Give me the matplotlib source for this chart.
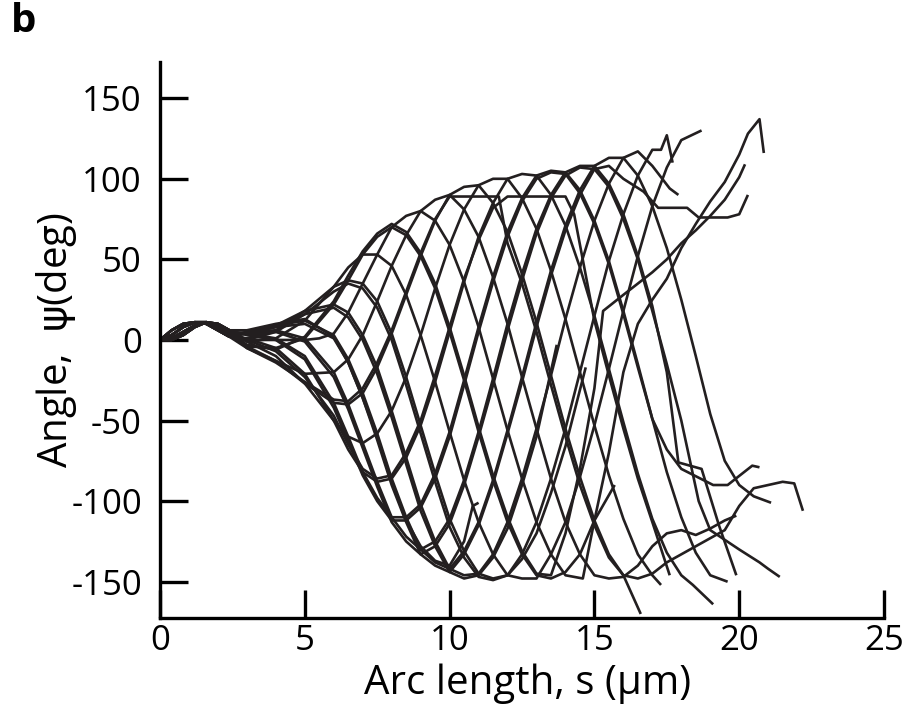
import matplotlib
matplotlib.use('Agg')
import matplotlib.pyplot as plt
import numpy as np

plt.rcParams['font.family'] = ['Open Sans', 'DejaVu Sans']
plt.rcParams['mathtext.fontset'] = 'dejavusans'


def grid(a, b):
    """sampling positions along the arc, every 0.5 um from a to b"""
    return np.arange(a, b + 0.25, 0.5).tolist()


# ---- data (arc length s in um, angle psi in deg), one snapshot per curve ----
bump_s = [0, 0.4, 0.8, 1.2, 1.6, 2.0, 2.4]
b1 = [0, 6, 10, 11, 10, 6, 2]
b2 = [0, 3, 8, 11, 11, 8, 3]
b3 = [0, 1, 5, 9, 11, 9, 5]
b4 = [0, 0, 3, 8, 11, 10, 6]

c01_s = bump_s + [3, 4, 5] + grid(6, 17) + [17.5, 17.9, 18.7, 19.3, 19.9]
c01_p = b1 + [5, 6, 1] + [-20, -40, -64, -88, -110, -122, -130, -125, -111, -87, -57, -24, 10, 41, 69, 90,
                          104, 108, 108, 97, 78, 52, 21] + [-20, -76, -80, -115, -146]

c02_s = bump_s + [3, 4, 5] + grid(6, 17.5) + [18, 18.6, 19, 20, 20.7, 21, 21.4]
c02_p = b2 + [4, 5, -1] + [-23, -43, -67, -91, -113, -125, -133, -128, -114, -90, -60, -28, 6, 37, 66, 88,
                           102, 107, 106, 95, 75, 50, 18, -15] + [-50, -100, -118, -130, -138, -142, -147]

c03_s = bump_s + [3, 4, 5] + grid(6, 19.5) + [20, 20.5, 21.1]
c03_p = b2 + [5, 9, 12] + [3, -12, -33, -58, -86, -110, -130, -138, -142, -131, -113, -87, -56, -23, 11, 43,
                           71, 93, 108, 113, 113, 102, 83, 57, 25, -10, -46, -75] + [-90, -97, -101]

c04_s = bump_s + [3, 4, 5] + grid(6, 16) + [16.7, 17.2, 18.2, 18.6, 19.6, 20.0, 20.3]
c04_p = b4 + [6, 10, 13] + [2, -14, -36, -62, -90, -113, -133, -140, -144, -133, -115, -89, -58, -26, 8, 40,
                            68, 90, 106, 108, 100] + [92, 82, 82, 76, 76, 78, 90]

c05_s = bump_s + [3, 4, 5] + grid(6, 10.5) + [10.8, 11.0]
c05_p = b3 + [4, 8, 10] + [1, -14, -36, -60, -88, -112, -128, -137, -140, -125] + [-103, -101]

c06_s = bump_s + [3, 4, 5] + grid(6, 17) + [17.6, 17.9]
c06_p = b3 + [4, 9, 18] + [22, 17, 3, -17, -44, -73, -102, -125, -142, -146, -145, -133, -113, -86, -55, -22,
                           13, 45, 74, 97, 113, 117, 108] + [94, 90]

c07_s = bump_s + [3, 4, 5] + grid(6, 13) + [13.7]
c07_p = b2 + [4, 8, 16] + [20, 14, 0, -21, -48, -77, -106, -128, -144, -148, -146, -135, -117, -90, -60] + [-3]

c08_s = bump_s + [3, 4, 5] + grid(6, 17) + [17.3, 17.5, 17.7]
c08_p = b1 + [1, 6, 18] + [33, 37, 35, 24, 4, -23, -53, -83, -111, -131, -145, -148, -146, -133, -113, -86,
                           -55, -20, 15, 49, 78, 102, 118] + [118, 127, 110]

c09_s = bump_s + [3, 4, 5] + grid(6, 14) + [14.7]
c09_p = b4 + [0, 5, 16] + [30, 35, 32, 20, 0, -28, -58, -88, -116, -135, -147, -149, -146, -136, -120, -95,
                           -66] + [-17]

c10_s = bump_s + [3, 4, 5] + grid(6, 18) + [18.7]
c10_p = b4 + [-1, 1, 12] + [33, 45, 53, 53, 46, 28, 3, -26, -57, -87, -113, -133, -146, -148, -148, -133,
                            -113, -85, -53, -18, 18, 52, 83, 107, 124] + [130]

c11_s = bump_s + [3, 4, 5] + grid(6, 20) + [20.3, 20.7, 20.85]
c11_p = b2 + [-4, -5, 1] + [22, 37, 53, 64, 70, 65, 52, 32, 5, -25, -57, -87, -113, -133, -146, -148, -144,
                            -133, -112, -70, -20, 10, 25, 38, 57, 72, 86, 98, 115] + [128, 137, 116]

c12_s = bump_s + [3, 4, 5] + grid(6, 15) + [15.3, 16, 16.5, 17, 17.5, 18, 18.5, 19, 19.5, 20, 20.2]
c12_p = b3 + [-3, -6, 2] + [24, 40, 55, 66, 72, 67, 54, 35, 8, -22, -54, -84, -110, -131, -145, -146, -120,
                            -80, -30] + [18, 28, 35, 42, 50, 60, 68, 77, 87, 101, 109]

c13_s = bump_s + [3, 4, 5, 5.5] + grid(6, 14) + [14.6, 15, 15.7]
c13_p = b3 + [0, 0, 0, 1] + [4, 17, 35, 53, 70, 77, 80, 74, 59, 36, 8, -24, -56, -86, -113, -133, -146] + \
    [-148, -112, -90]

c14_s = bump_s + [3, 4, 5] + grid(6, 19.5) + [19.9]
c14_p = b1 + [-5, -13, -21] + [-20, -12, 3, 24, 46, 65, 80, 87, 90, 81, 64, 39, 10, -23, -55, -86, -113, -133,
                               -146, -148, -147, -140, -128, -120, -118, -121, -117, -112] + [-109]

c15_s = bump_s + [3, 4, 5] + grid(6, 21.5) + [21.9, 22.2]
c15_p = b2 + [-4, -13, -27] + [-39, -40, -33, -17, 4, 28, 52, 74, 90, 95, 96, 85, 67, 41, 11, -22, -55, -85,
                               -112, -133, -146, -148, -145, -138, -133, -128, -123, -118, -103, -92, -90,
                               -88] + [-89, -106]

c16_s = bump_s + [3, 4, 5] + grid(6, 10) + [11, 11.7] + grid(12, 16) + [16.6]
c16_p = b4 + [-5, -14, -26] + [-37, -38, -30, -14, 6, 30, 54, 75, 89] + [89, 89] + \
    [60, 35, 5, -28, -60, -90, -115, -135, -146] + [-170]

c17_s = bump_s + [3, 4, 5] + grid(6, 17) + [17.3]
c17_p = b3 + [-1, -10, -27] + [-50, -60, -64, -58, -44, -23, 3, 32, 59, 81, 96, 100, 100, 88, 69, 43, 13, -20,
                               -53, -84, -111, -133, -146] + [-152]

c18_s = bump_s + [3, 4, 5] + grid(6, 18) + [18.4, 19.1]
c18_p = b1 + [1, -5, -21] + [-50, -68, -82, -88, -86, -73, -53, -26, 5, 36, 64, 85, 100, 103, 102, 90, 71, 45,
                             15, -18, -51, -83, -111, -132, -146] + [-152, -164]

c19_s = bump_s + [3, 4, 5] + grid(6, 12) + [13, 14, 14.3] + grid(15, 17) + [17.6]
c19_p = b2 + [0, -7, -23] + [-47, -65, -80, -86, -84, -70, -50, -22, 8, 38, 62, 82, 89] + [89, 89, 78] + \
    [12, -22, -55, -86, -113] + [-146]

c20_s = bump_s + [3, 4, 5] + grid(6, 19) + [19.6]
c20_p = b1 + [4, 1, -10] + [-39, -60, -82, -98, -110, -110, -102, -83, -57, -25, 8, 39, 67, 88, 102, 105, 104,
                            93, 74, 49, 18, -15, -49, -82, -110, -132, -146] + [-150]

c21_s = bump_s + [3, 4, 5] + grid(6, 18) + [19.1, 19.6, 20.45, 20.7]
c21_p = b4 + [3, 0, -12] + [-42, -63, -84, -100, -112, -112, -104, -86, -60, -28, 5, 36, 64, 86, 100, 104, 103,
                            91, 72, 47, 16, -17, -49, -68, -80] + [-90, -90, -78, -79]

curves = [(c01_s, c01_p), (c02_s, c02_p), (c03_s, c03_p), (c04_s, c04_p),
          (c05_s, c05_p), (c06_s, c06_p), (c07_s, c07_p), (c08_s, c08_p),
          (c09_s, c09_p), (c10_s, c10_p), (c11_s, c11_p), (c12_s, c12_p),
          (c13_s, c13_p), (c14_s, c14_p), (c15_s, c15_p), (c16_s, c16_p),
          (c17_s, c17_p), (c18_s, c18_p), (c19_s, c19_p), (c20_s, c20_p),
          (c21_s, c21_p)]

x_ticks = [0, 5, 10, 15, 20, 25]
y_ticks = [-150, -100, -50, 0, 50, 100, 150]

# ---- figure ----
fig = plt.figure(figsize=(9.08, 7.17), dpi=100)
ax = fig.add_axes([0.1762, 0.1381, 0.7974, 0.7755])

ink = '#231f20'
for s, p in curves:
    ax.plot(s, p, color=ink, lw=1.9, solid_joinstyle='round', solid_capstyle='butt')

ax.set_xlim(0, 25)
ax.set_ylim(-172.5, 172.5)
ax.set_xticks(x_ticks)
ax.set_yticks(y_ticks)
ax.set_xticklabels([str(v) for v in x_ticks])
ax.set_yticklabels([str(v) for v in y_ticks])

for side in ['top', 'right']:
    ax.spines[side].set_visible(False)
for side in ['left', 'bottom']:
    ax.spines[side].set_linewidth(2.4)
    ax.spines[side].set_color('black')

ax.tick_params(axis='both', direction='in', length=20, width=2.4, colors='black',
               labelsize=25)
ax.tick_params(axis='y', pad=13)
ax.tick_params(axis='x', pad=4)

ax.set_xlabel('Arc length, s (\u03bcm)', fontsize=29)
ax.set_ylabel(r'Angle,  $\mathrm{\psi}$(deg)', fontsize=29)
ax.xaxis.set_label_coords(0.508, -0.082)
ax.yaxis.set_label_coords(-0.112, 0.5)

fig.text(0.012, 0.997, 'b', fontsize=29, fontweight='bold', va='top', ha='left')

fig.savefig('out.png', dpi=100)
